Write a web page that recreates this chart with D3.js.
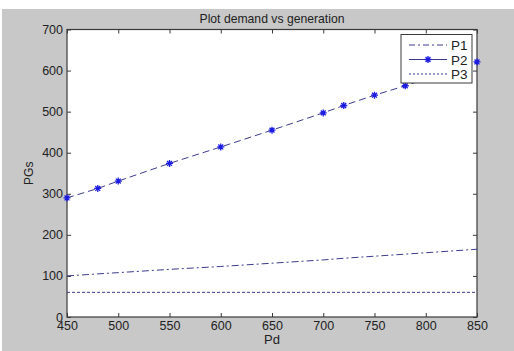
<!DOCTYPE html>
<html>
<head>
<meta charset="utf-8">
<script src="https://cdn.jsdelivr.net/npm/d3@7"></script>
<style>
  body { margin: 0; background: #fff; }
  svg { display: block; font-family: "Liberation Sans", Arial, sans-serif; }
</style>
</head>
<body>
<svg width="514" height="351"></svg>
<script>
const svg = d3.select("svg");

const width = +svg.attr("width");
const height = +svg.attr("height");

const pd = [450, 480, 500, 550, 600, 650, 700, 720, 750, 780, 850];
const p1 = [100, 105, 108, 116, 123, 131, 139, 143, 148, 153, 165];
const p2 = [290, 313, 331, 374, 414, 455, 497, 515, 540, 563, 621];
const p3 = [60, 60, 60, 60, 60, 60, 60, 60, 60, 60, 60];
const xTicks = [450, 500, 550, 600, 650, 700, 750, 800, 850];
const yTicks = [0, 100, 200, 300, 400, 500, 600, 700];
const seriesNames = ["P1", "P2", "P3"];

const lineColor = "#3b3b8c";
const markColor = "#1a1ae0";
const axisColor = "#3a3a3a";

// figure background (white strip at top/left like the screenshot)
svg.append("rect").attr("width", width).attr("height", height).attr("fill", "#fff");
svg.append("rect").attr("x", 2).attr("y", 9).attr("width", width - 2).attr("height", height - 9)
  .attr("fill", "#c8c8c8");

const margin = { top: 29.5, right: 37, bottom: 34, left: 67 };
const innerWidth = width - margin.left - margin.right;
const innerHeight = height - margin.top - margin.bottom;

const xScale = d3.scaleLinear().domain([450, 850]).range([0, innerWidth]);
const yScale = d3.scaleLinear().domain([0, 700]).range([innerHeight, 0]);

const g = svg.append("g").attr("transform", `translate(${margin.left},${margin.top})`);

g.append("rect").attr("width", innerWidth).attr("height", innerHeight).attr("fill", "#fff");

const styleAxis = (sel) => {
  sel.select(".domain").remove();
  sel.selectAll(".tick line").attr("stroke", axisColor);
  sel.selectAll(".tick text").attr("fill", "#222").attr("font-size", 12.5);
};

g.append("g")
  .attr("transform", `translate(0,${innerHeight})`)
  .call(d3.axisBottom(xScale).tickValues(xTicks).tickSizeInner(-4).tickSizeOuter(0).tickPadding(4))
  .call(styleAxis);
g.append("g")
  .call(d3.axisTop(xScale).tickValues(xTicks).tickSizeInner(-4).tickSizeOuter(0).tickFormat(""))
  .call(styleAxis);
g.append("g")
  .call(d3.axisLeft(yScale).tickValues(yTicks).tickSizeInner(-4).tickSizeOuter(0).tickPadding(4))
  .call(styleAxis);
g.append("g")
  .attr("transform", `translate(${innerWidth},0)`)
  .call(d3.axisRight(yScale).tickValues(yTicks).tickSizeInner(-4).tickSizeOuter(0).tickFormat(""))
  .call(styleAxis);

// box
g.append("rect").attr("width", innerWidth).attr("height", innerHeight)
  .attr("fill", "none").attr("stroke", axisColor).attr("stroke-width", 1.2);

const line = d3.line().x((d) => xScale(d[0])).y((d) => yScale(d[1]));
const dashes = ["7,3,2,3", "7,4", "3,2"];
[p1, p2, p3].forEach((vals, i) => {
  g.append("path")
    .datum(pd.map((x, j) => [x, vals[j]]))
    .attr("d", line)
    .attr("fill", "none")
    .attr("stroke", lineColor)
    .attr("stroke-width", 1)
    .attr("stroke-dasharray", dashes[i]);
});

const star = (sel, s) => {
  sel.append("path")
    .attr("d", `M${-s},0H${s}M0,${-s}V${s}M${-s * 0.7},${-s * 0.7}L${s * 0.7},${s * 0.7}M${-s * 0.7},${s * 0.7}L${s * 0.7},${-s * 0.7}`)
    .attr("stroke", markColor)
    .attr("stroke-width", 1.3)
    .attr("fill", "none");
};

g.selectAll(".mark")
  .data(pd.map((x, j) => [x, p2[j]]))
  .join("g")
  .attr("class", "mark")
  .attr("transform", (d) => `translate(${xScale(d[0])},${yScale(d[1])})`)
  .each(function () { star(d3.select(this), 3.5); });

// legend
const legend = svg.append("g").attr("transform", "translate(401,34.5)");
legend.append("rect").attr("width", 71).attr("height", 48.5)
  .attr("fill", "#fff").attr("stroke", axisColor).attr("stroke-width", 1);
const legendDash = ["6,3,2,3", null, "2,2"];
seriesNames.forEach((name, i) => {
  const y = 10.5 + i * 14.5;
  legend.append("line")
    .attr("x1", 8).attr("x2", 46).attr("y1", y).attr("y2", y)
    .attr("stroke", lineColor).attr("stroke-width", 1)
    .attr("stroke-dasharray", legendDash[i]);
  if (i === 1) star(legend.append("g").attr("transform", `translate(27,${y})`), 3.5);
  legend.append("text")
    .attr("x", 50).attr("y", y + 5)
    .attr("font-size", 13.5).attr("fill", "#222")
    .text(name);
});

// title and axis labels
svg.append("text")
  .attr("x", margin.left + innerWidth / 2).attr("y", 23)
  .attr("text-anchor", "middle").attr("font-size", 12.2).attr("fill", "#222")
  .text("Plot demand vs generation");
svg.append("text")
  .attr("x", margin.left + innerWidth / 2).attr("y", 344)
  .attr("text-anchor", "middle").attr("font-size", 13).attr("fill", "#222")
  .text("Pd");
svg.append("text")
  .attr("transform", `translate(33,${margin.top + innerHeight / 2}) rotate(-90)`)
  .attr("text-anchor", "middle").attr("font-size", 12).attr("fill", "#222")
  .text("PGs");
</script>
</body>
</html>
